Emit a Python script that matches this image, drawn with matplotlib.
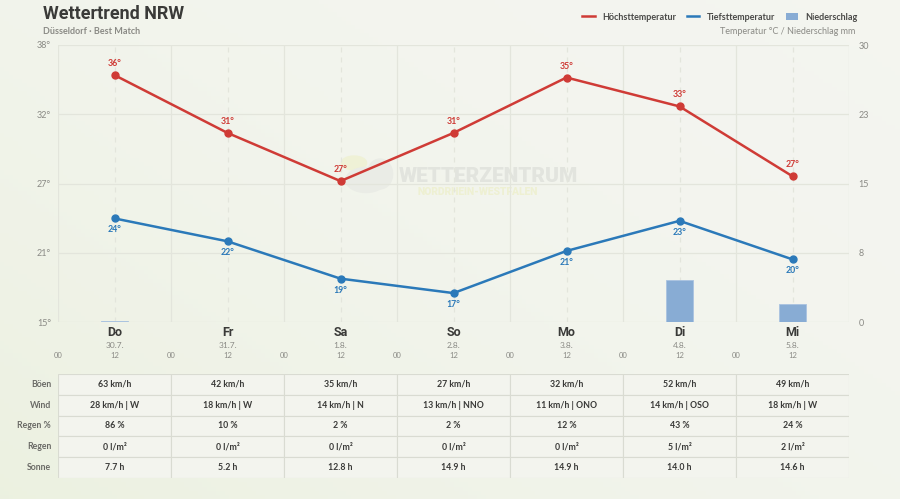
import numpy as np
import matplotlib.pyplot as plt
from matplotlib.lines import Line2D
from matplotlib.patches import Patch, Rectangle, Ellipse, Circle
import matplotlib.transforms as mtransforms

plt.rcParams['font.family'] = ['Lato', 'DejaVu Sans']

# -------------------------------------------------------------------
# Data
# -------------------------------------------------------------------
days = ["Do", "Fr", "Sa", "So", "Mo", "Di", "Mi"]
dates = ["30.7.", "31.7.", "1.8.", "2.8.", "3.8.", "4.8.", "5.8."]
t_max = [35.5, 30.7, 26.7, 30.7, 35.3, 32.9, 27.1]
t_min = [23.6, 21.7, 18.6, 17.4, 20.9, 23.4, 20.2]
precip = [0.1, 0.0, 0.0, 0.0, 0.0, 4.5, 2.0]

row_labels = ["Böen", "Wind", "Regen %", "Regen", "Sonne"]
gusts = ["63 km/h", "42 km/h", "35 km/h", "27 km/h", "32 km/h", "52 km/h", "49 km/h"]
wind = ["28 km/h | W", "18 km/h | W", "14 km/h | N", "13 km/h | NNO",
        "11 km/h | ONO", "14 km/h | OSO", "18 km/h | W"]
rain_pct = ["86 %", "10 %", "2 %", "2 %", "12 %", "43 %", "24 %"]
rain_amt = ["0 l/m²", "0 l/m²", "0 l/m²", "0 l/m²", "0 l/m²", "5 l/m²", "2 l/m²"]
sun = ["7.7 h", "5.2 h", "12.8 h", "14.9 h", "14.9 h", "14.0 h", "14.6 h"]
table_rows = [gusts, wind, rain_pct, rain_amt, sun]

temp_lim = (15, 38)
precip_lim = (0, 30)

RED = "#cf3b36"
BLUE = "#2b79b9"
BAR = "#88acd4"
GRID = "#e3e5dc"
MUTED = "#8a8a85"

# hours since start of first day; day centre at 12 h
hours = np.arange(len(days)) * 24 + 12

# -------------------------------------------------------------------
# Figure and background
# -------------------------------------------------------------------
W, H = 900, 499
fig = plt.figure(figsize=(9, 4.99), dpi=100)

def fx(px):
    return px / W

def fy(py):
    return 1 - py / H

bg = fig.add_axes([0, 0, 1, 1], zorder=-10)
gx, gy = np.meshgrid(np.linspace(0, 1, 200), np.linspace(0, 1, 120))
grad = np.clip(0.55 * (1 - gx) + 0.45 * gy, 0, 1) ** 2
c0 = np.array([0.957, 0.961, 0.941])
c1 = np.array([0.925, 0.945, 0.880])
img = c0[None, None, :] * (1 - grad[..., None]) + c1[None, None, :] * grad[..., None]
bg.imshow(img, aspect="auto", extent=[0, 1, 0, 1], origin="upper")
bg.axis("off")

# watermark (behind everything)
bg.add_patch(Circle((fx(354), fy(163)), 0.014, color="#eff1d6", transform=bg.transAxes))
bg.add_patch(Ellipse((fx(366), fy(180)), 0.045, 0.05, color="#eaece6", transform=bg.transAxes))
bg.add_patch(Ellipse((fx(380), fy(174)), 0.028, 0.06, color="#eaece6", transform=bg.transAxes))
bg.text(fx(488), fy(176), "WETTERZENTRUM", ha="center", va="center",
        fontsize=15, fontweight="heavy", color="#e2e4de",
        family=["Roboto", "DejaVu Sans"], transform=bg.transAxes)
bg.text(fx(478), fy(192), "NORDRHEIN-WESTFALEN", ha="center", va="center",
        fontsize=7.5, fontweight="heavy", color="#eef0d2",
        family=["Roboto", "DejaVu Sans"], transform=bg.transAxes)

# -------------------------------------------------------------------
# Main chart
# -------------------------------------------------------------------
ax = fig.add_axes([fx(58), fy(322), fx(849) - fx(58), fy(45) - fy(322)])
ax2 = ax.twinx()

ax.set_xlim(0, 168)
ax.set_ylim(*temp_lim)
ax2.set_ylim(*precip_lim)
ax.set_zorder(ax2.get_zorder() + 1)
ax.patch.set_visible(False)
ax2.patch.set_visible(False)

# grid (on the lower axes so bars cover it)
pt = np.linspace(precip_lim[0], precip_lim[1], 5)
for v in pt:
    ax2.axhline(v, color=GRID, lw=0.9, zorder=0)
for h in np.arange(0, 169, 24):
    ax2.axvline(h, color=GRID, lw=0.9, zorder=0)
for h in hours:
    ax2.axvline(h, color=GRID, lw=0.9, ls=(0, (4, 4)), zorder=0)

# precipitation bars
ax2.bar(hours, precip, width=5.7, color=BAR, edgecolor="#a9c3e0", linewidth=0.6, zorder=1)

# temperature lines
ax.plot(hours, t_max, color=RED, lw=1.8, marker="o", ms=5, zorder=4)
ax.plot(hours, t_min, color=BLUE, lw=1.8, marker="o", ms=5, zorder=4)

for h, v in zip(hours, t_max):
    ax.annotate(f"{v:.0f}°", (h, v), xytext=(0, 5), textcoords="offset points",
                ha="center", va="bottom", fontsize=6.3, fontweight="bold", color=RED)
for h, v in zip(hours, t_min):
    ax.annotate(f"{v:.0f}°", (h, v), xytext=(0, -5), textcoords="offset points",
                ha="center", va="top", fontsize=6.3, fontweight="bold", color=BLUE)

# axes styling
for a in (ax, ax2):
    for s in a.spines.values():
        s.set_visible(False)
    a.tick_params(length=0)
yt = np.linspace(temp_lim[0], temp_lim[1], 5)
ax.set_yticks(yt)
ax.set_yticklabels([f"{v:.0f}°" for v in np.round(yt + 1e-9)], fontsize=6.5, color=MUTED)
ax.tick_params(axis="y", pad=5)
ax2.set_yticks(pt)
ax2.set_yticklabels([f"{v:.0f}" for v in np.floor(pt + 0.5)], fontsize=6.5, color=MUTED)
ax2.tick_params(axis="y", pad=7)
ax.set_xticks([])

# day / date / hour labels below the chart
trans = mtransforms.blended_transform_factory(ax.transData, fig.transFigure)
for h, d, dt in zip(hours, days, dates):
    ax.text(h, fy(333), d, transform=trans, ha="center", va="center",
            fontsize=9, fontweight="bold", color="#3a3a38", family=["Roboto", "DejaVu Sans"])
    ax.text(h, fy(345), dt, transform=trans, ha="center", va="center",
            fontsize=6, color=MUTED)
for h in np.arange(0, 168, 12):
    ax.text(h, fy(356), "00" if h % 24 == 0 else "12", transform=trans,
            ha="center", va="center", fontsize=5.5, color=MUTED)

# -------------------------------------------------------------------
# Title, subtitle, legend
# -------------------------------------------------------------------
fig.text(fx(43), fy(14), "Wettertrend NRW", ha="left", va="center", fontsize=13,
         fontweight="bold", color="#3a3a38", family=["Roboto", "DejaVu Sans"])
fig.text(fx(43), fy(32), "Düsseldorf · Best Match", ha="left", va="center",
         fontsize=6.5, color=MUTED, fontweight="bold")
fig.text(fx(855), fy(32), "Temperatur °C / Niederschlag mm", ha="right", va="center",
         fontsize=6.5, color=MUTED)

handles = [Line2D([], [], color=RED, lw=1.8),
           Line2D([], [], color=BLUE, lw=1.8),
           Patch(facecolor=BAR, edgecolor="none")]
fig.legend(handles, ["Höchsttemperatur", "Tiefsttemperatur", "Niederschlag"],
           loc="center right", bbox_to_anchor=(fx(866), fy(17)), ncol=3,
           frameon=False, handlelength=1.4, handleheight=0.9,
           columnspacing=1.2, handletextpad=0.8,
           prop={"weight": "bold", "size": 6.5})
for t in fig.legends[0].get_texts():
    t.set_color("#4a4a48")

# -------------------------------------------------------------------
# Table
# -------------------------------------------------------------------
tab = fig.add_axes([fx(58), fy(478), fx(849) - fx(58), fy(374) - fy(478)])
tab.set_xlim(0, len(days))
tab.set_ylim(len(row_labels), 0)
tab.axis("off")
for r, (lab, vals) in enumerate(zip(row_labels, table_rows)):
    tab.text(-0.06, r + 0.5, lab, ha="right", va="center", fontsize=6.3,
             color="#6a6a66", fontweight="bold")
    for c, v in enumerate(vals):
        tab.add_patch(Rectangle((c, r), 1, 1, facecolor="#f3f4ee",
                                edgecolor="#d9dbd2", linewidth=0.8))
        tab.text(c + 0.5, r + 0.5, v, ha="center", va="center", fontsize=6.3,
                 color="#3a3a38", fontweight="bold")

fig.savefig("out.png", dpi=100)
